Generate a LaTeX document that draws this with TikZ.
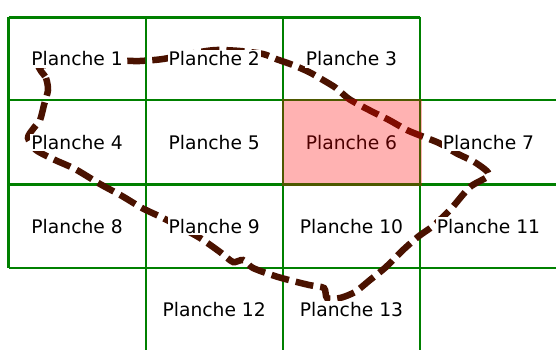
\documentclass[tikz,border=0pt]{standalone}
\usepackage{fontspec}
\setmainfont{DejaVu Sans}
\definecolor{gridgreen}{HTML}{008000}
\definecolor{pathbrown}{HTML}{4A1200}
\begin{document}
\begin{tikzpicture}[x=1pt,y=-1pt,
  gridline/.style={draw=gridgreen,line width=2.3pt},
  route/.style={draw=pathbrown,line width=6.5pt,dash pattern=on 18pt off 7pt},
  label/.style={font=\fontsize{18.7}{22}\selectfont,text=black,fill=white,inner xsep=1pt,inner ysep=1.5pt}]
\useasboundingbox (0,0) rectangle (556,350);
\fill[white] (0,0) rectangle (556,350);
% grid
\draw[gridline] (8.5,17.5) -- (420.3,17.5);
\draw[gridline] (8.5,100.3) -- (556,100.3);
\draw[gridline] (8.5,184.5) -- (556,184.5);
\draw[gridline] (8.5,267.8) -- (556,267.8);
\draw[gridline] (8.5,17.5) -- (8.5,267.8);
\draw[gridline] (145.7,17.5) -- (145.7,350);
\draw[gridline] (282.7,17.5) -- (282.7,350);
\draw[gridline] (420.3,17.5) -- (420.3,350);
% route
\draw[route] plot[smooth cycle,tension=0.45] coordinates {
 (40,66) (46,78) (48,90) (44,105) (40,120) (33,129) (28,138) (36,150)
 (55,160) (75,169) (100,184) (122,196) (142,208) (163,218) (180,227)
 (200,238) (220,252) (233,262) (243,260) (253,268) (278,277) (309,285)
 (324,288) (327,298) (340,298) (355,292) (370,280) (386,267) (403,250)
 (419,236) (433,226) (450,210) (470,187) (489,175) (476,163) (456,153)
 (439,143) (409,131) (389,120) (369,110) (349,99) (336,88) (323,80)
 (309,72) (293,65) (276,59) (263,54) (240,51) (217,50) (200,52)
 (163,59) (140,61) (127,61) (110,63) (75,64)};
% labels
\node[label] (p1) at (77.1,59) {Planche 1};
\node[label] (p2) at (214.2,59) {Planche 2};
\node[label] (p3) at (351.5,59) {Planche 3};
\node[label] (p4) at (77.1,142.4) {Planche 4};
\node[label] (p5) at (214.2,142.4) {Planche 5};
\node[label,fill=none] (p6) at (351.5,142.4) {Planche 6};
\node[label] (p7) at (488.5,142.4) {Planche 7};
\node[label] (p8) at (77.1,226.2) {Planche 8};
\node[label] (p9) at (214.2,226.2) {Planche 9};
\node[label] (p10) at (351.5,226.2) {Planche 10};
\node[label] (p11) at (488.5,226.2) {Planche 11};
\node[label] (p12) at (214.2,309.5) {Planche 12};
\node[label] (p13) at (351.5,309.5) {Planche 13};
% highlighted sheet
\fill[red,opacity=0.3] (281.5,99.1) rectangle (421.5,185.7);
\end{tikzpicture}
\end{document}
